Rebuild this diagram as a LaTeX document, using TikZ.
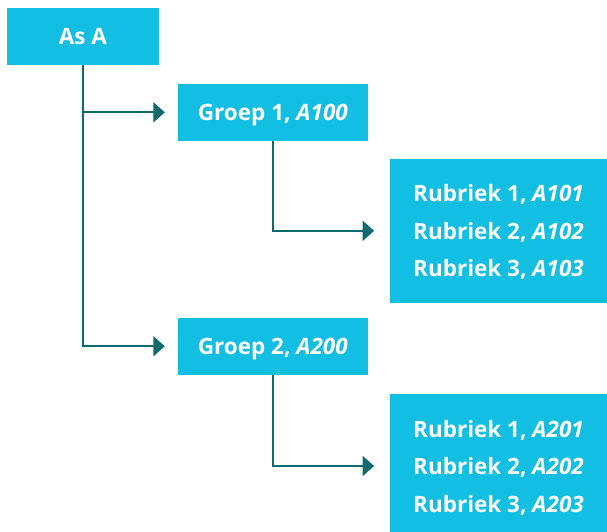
\documentclass[tikz,border=0pt]{standalone}
\usepackage{fontspec}
\setmainfont{Open Sans}
\usetikzlibrary{arrows.meta}
\definecolor{boxcyan}{RGB}{19,190,227}
\definecolor{lineteal}{RGB}{14,106,108}
\begin{document}
\begin{tikzpicture}[x=1pt,y=-1pt,
  box/.style={fill=boxcyan, draw=none, inner sep=0pt, text=white, align=center,
    text depth=0pt, font=\fontsize{22.5}{37.5}\selectfont\bfseries},
  onebox/.style={box, text height=16pt},
  conn/.style={draw=lineteal, line width=2pt, -{Triangle[length=11.5pt,width=20pt]}}]
\useasboundingbox (0,0) rectangle (607,532);
\node[onebox, minimum width=151.7pt, minimum height=56.7pt] (asA) at (82.85,36.3) {As A};
\node[onebox, minimum width=189.7pt, minimum height=56.7pt] (g1) at (272.85,112.35) {Groep 1, \textit{A100}};
\node[box, minimum width=217pt, minimum height=143.7pt] (r1) at (498.5,230.85)
  {Rubriek 1, \textit{A101}\\Rubriek 2, \textit{A102}\\Rubriek 3, \textit{A103}};
\node[onebox, minimum width=189.5pt, minimum height=56.5pt] (g2) at (272.75,346.25) {Groep 2, \textit{A200}};
\node[box, minimum width=217pt, minimum height=143.7pt] (r2) at (498.5,466)
  {Rubriek 1, \textit{A201}\\Rubriek 2, \textit{A202}\\Rubriek 3, \textit{A203}};
\draw[conn, shorten >=13pt] (asA.south) |- (g2.west);
\draw[conn, shorten >=13pt] (asA.south |- g1.west) -- (g1.west);
\draw[conn, shorten >=15.7pt] (g1.south) |- (r1.west);
\draw[conn, shorten >=15.7pt] (g2.south) |- (r2.west);
\end{tikzpicture}
\end{document}
